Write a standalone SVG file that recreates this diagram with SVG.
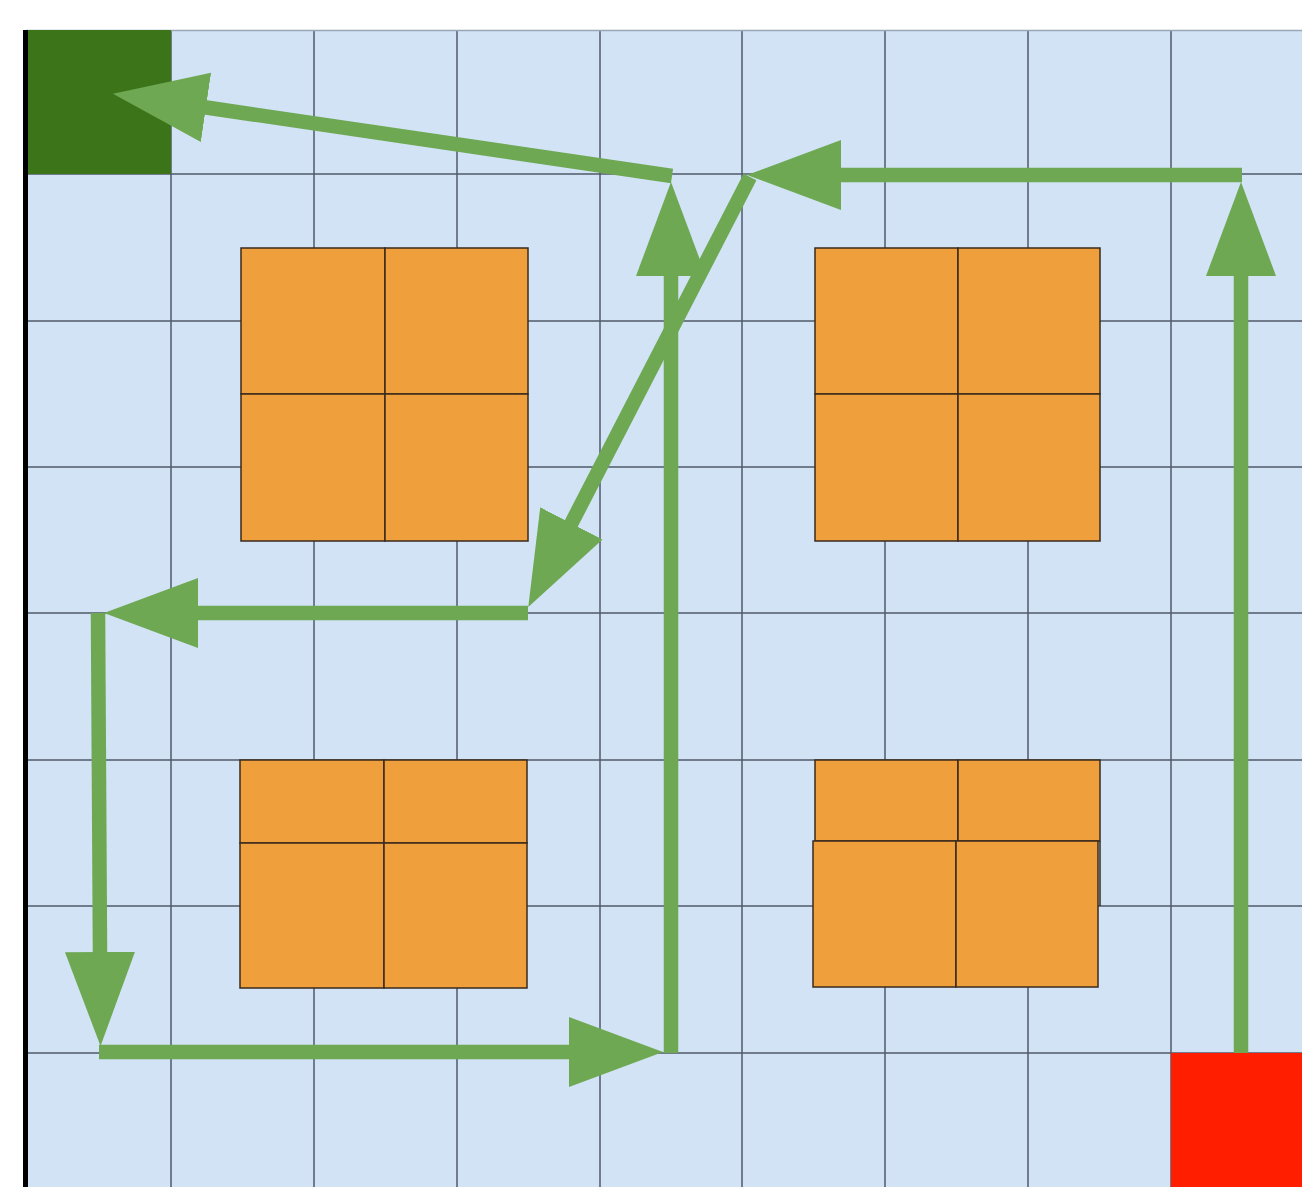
<svg xmlns="http://www.w3.org/2000/svg" width="1302" height="1187" viewBox="0 0 1302 1187">
<style>
.grid line{stroke:#4f5a6a;stroke-width:1.5}
.cell{fill:#f09f3d;stroke:#3a2a1c;stroke-width:1.5}
.path{stroke:#6ea852;stroke-width:14.5;fill:none;stroke-linecap:butt}
</style>
<defs>
<marker id="ah" markerUnits="userSpaceOnUse" markerWidth="96" markerHeight="72" viewBox="0 0 96 72" refX="3" refY="36" orient="auto">
<path d="M0,1 L94,36 L0,71 Z" fill="#6ea852"/>
</marker>
</defs>
<rect x="0" y="0" width="1302" height="1187" fill="#ffffff"/>
<rect x="26" y="30" width="1276" height="1157" fill="#d1e3f4"/>
<g class="grid">
<line x1="171" y1="30" x2="171" y2="1187"/>
<line x1="314" y1="30" x2="314" y2="1187"/>
<line x1="457" y1="30" x2="457" y2="1187"/>
<line x1="600" y1="30" x2="600" y2="1187"/>
<line x1="742" y1="30" x2="742" y2="1187"/>
<line x1="885" y1="30" x2="885" y2="1187"/>
<line x1="1028" y1="30" x2="1028" y2="1187"/>
<line x1="1171" y1="30" x2="1171" y2="1187"/>
<line x1="26" y1="30.5" x2="1302" y2="30.5" style="stroke:#9aa6b5"/>
<line x1="26" y1="174" x2="1302" y2="174"/>
<line x1="26" y1="321" x2="1302" y2="321"/>
<line x1="26" y1="467" x2="1302" y2="467"/>
<line x1="26" y1="613" x2="1302" y2="613"/>
<line x1="26" y1="760" x2="1302" y2="760"/>
<line x1="26" y1="906" x2="1302" y2="906"/>
<line x1="26" y1="1053" x2="1302" y2="1053"/>
</g>
<rect x="23" y="30" width="5" height="1157" fill="#000000"/>
<g id="goal"><rect x="28" y="30" width="143" height="144" fill="#3b7419"/></g>
<g id="start"><rect x="1171" y="1053" width="131" height="134" fill="#ff1f00"/></g>
<g id="shelf-1">
<rect class="cell" x="241" y="248" width="144" height="146"/>
<rect class="cell" x="385" y="248" width="143" height="146"/>
<rect class="cell" x="241" y="394" width="144" height="147"/>
<rect class="cell" x="385" y="394" width="143" height="147"/>
</g>
<g id="shelf-2">
<rect class="cell" x="815" y="248" width="143" height="146"/>
<rect class="cell" x="958" y="248" width="142" height="146"/>
<rect class="cell" x="815" y="394" width="143" height="147"/>
<rect class="cell" x="958" y="394" width="142" height="147"/>
</g>
<g id="shelf-3">
<rect class="cell" x="240" y="760" width="144" height="83"/>
<rect class="cell" x="384" y="760" width="143" height="83"/>
<rect class="cell" x="240" y="843" width="144" height="145"/>
<rect class="cell" x="384" y="843" width="143" height="145"/>
</g>
<g id="shelf-4">
<rect class="cell" x="815" y="760" width="143" height="81"/>
<rect class="cell" x="958" y="760" width="142" height="81"/>
<rect class="cell" x="813" y="841" width="143" height="146"/>
<rect class="cell" x="956" y="841" width="142" height="146"/>
<line x1="1100" y1="841" x2="1100" y2="906" stroke="#3a2a1c" stroke-width="1.5"/>
</g>
<g id="connectors">
<line class="path" x1="1241" y1="1053" x2="1241" y2="273" marker-end="url(#ah)"/>
<line class="path" x1="1242" y1="175" x2="838" y2="175" marker-end="url(#ah)"/>
<line class="path" x1="750" y1="177" x2="570" y2="526" marker-end="url(#ah)"/>
<line class="path" x1="528" y1="613" x2="195" y2="613" marker-end="url(#ah)"/>
<line class="path" x1="98" y1="613" x2="100" y2="955" marker-end="url(#ah)"/>
<line class="path" x1="99" y1="1052" x2="572" y2="1052" marker-end="url(#ah)"/>
<line class="path" x1="671" y1="1053" x2="671" y2="273" marker-end="url(#ah)"/>
<line class="path" x1="672" y1="176" x2="203" y2="107" marker-end="url(#ah)"/>
</g>
</svg>
